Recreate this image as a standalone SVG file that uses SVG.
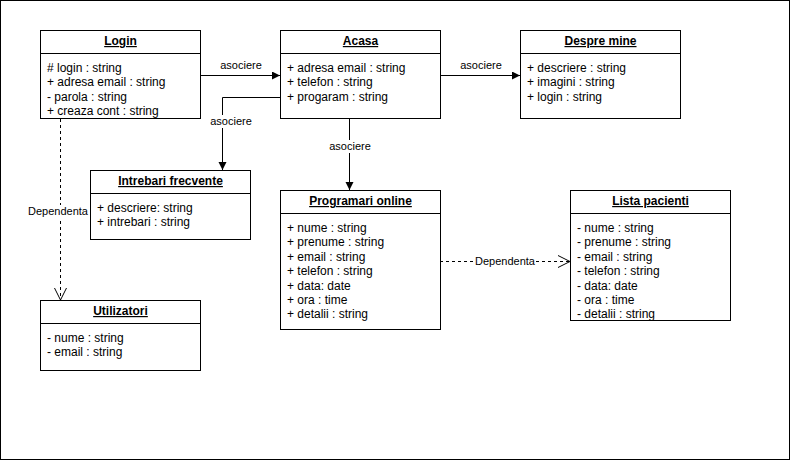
<svg xmlns="http://www.w3.org/2000/svg" width="791" height="461" viewBox="0 0 791 461">
<style>
.box{fill:#fff;stroke:#000;stroke-width:1}
.sep{stroke:#000;stroke-width:1}
.title{font-family:"Liberation Sans",Arial,sans-serif;font-size:12px;font-weight:bold;text-anchor:middle;text-decoration:underline;fill:#000}
.attr{font-family:"Liberation Sans",Arial,sans-serif;font-size:12px;fill:#000}
.lbl{font-family:"Liberation Sans",Arial,sans-serif;font-size:11px;text-anchor:middle;fill:#000}
.edge{fill:none;stroke:#000;stroke-width:1}
.dash{stroke-dasharray:3 3}
.bg{fill:#fff}
</style>
<defs>
<marker id="block" markerWidth="10" markerHeight="10" refX="8" refY="4" orient="auto" markerUnits="userSpaceOnUse">
<path d="M0,0 L8,4 L0,8 Z" fill="#000" stroke="none"/>
</marker>
<marker id="open" markerWidth="14" markerHeight="15" refX="12.5" refY="6.5" orient="auto" markerUnits="userSpaceOnUse">
<path d="M0.5,0.5 L12.5,6.5 L0.5,12.5" fill="none" stroke="#000" stroke-width="1" stroke-dasharray="none"/>
</marker>
</defs>
<rect x="0.5" y="0.5" width="789" height="459" fill="#fff" stroke="#000" stroke-width="1"/>

<g id="connectors">
<path class="edge" d="M200.5,75.5 H280" marker-end="url(#block)"/>
<path class="edge" d="M440.5,75.5 H520" marker-end="url(#block)"/>
<path class="edge" d="M280,97.5 H222.5 V170" marker-end="url(#block)"/>
<path class="edge" d="M349.5,119 V190" marker-end="url(#block)"/>
<path class="edge dash" d="M60.5,119 V300" marker-end="url(#open)"/>
<path class="edge dash" d="M440,261.5 H570" marker-end="url(#open)"/>
<text class="lbl" x="241" y="69">asociere</text>
<text class="lbl" x="481" y="69">asociere</text>
<rect class="bg" x="210" y="115" width="42" height="13"/>
<text class="lbl" x="231" y="125">asociere</text>
<rect class="bg" x="329" y="140" width="42" height="13"/>
<text class="lbl" x="350" y="150">asociere</text>
<rect class="bg" x="28" y="205" width="61" height="13"/>
<text class="lbl" x="58" y="215">Dependenta</text>
<rect class="bg" x="475" y="255" width="61" height="13"/>
<text class="lbl" x="505" y="265">Dependenta</text>
</g>

<g id="login">
<rect class="box" x="40.5" y="30.5" width="160" height="88"/>
<line class="sep" x1="40.5" y1="53.5" x2="200.5" y2="53.5"/>
<text class="title" x="120.5" y="45">Login</text>
<text class="attr">
<tspan x="47" y="72"># login : string</tspan>
<tspan x="47" y="86.4">+ adresa email : string</tspan>
<tspan x="47" y="100.8">- parola : string</tspan>
<tspan x="47" y="115.2">+ creaza cont : string</tspan>
</text>
</g>

<g id="acasa">
<rect class="box" x="280.5" y="30.5" width="160" height="88"/>
<line class="sep" x1="280.5" y1="53.5" x2="440.5" y2="53.5"/>
<text class="title" x="360.5" y="45">Acasa</text>
<text class="attr">
<tspan x="287" y="72">+ adresa email : string</tspan>
<tspan x="287" y="86.4">+ telefon : string</tspan>
<tspan x="287" y="100.8">+ progaram : string</tspan>
</text>
</g>

<g id="despre-mine">
<rect class="box" x="520.5" y="30.5" width="160" height="88"/>
<line class="sep" x1="520.5" y1="53.5" x2="680.5" y2="53.5"/>
<text class="title" x="600.5" y="45">Despre mine</text>
<text class="attr">
<tspan x="527" y="72">+ descriere : string</tspan>
<tspan x="527" y="86.4">+ imagini : string</tspan>
<tspan x="527" y="100.8">+ login : string</tspan>
</text>
</g>

<g id="intrebari-frecvente">
<rect class="box" x="90.5" y="170.5" width="160" height="69"/>
<line class="sep" x1="90.5" y1="193.5" x2="250.5" y2="193.5"/>
<text class="title" x="170.5" y="185">Intrebari frecvente</text>
<text class="attr">
<tspan x="97" y="212">+ descriere: string</tspan>
<tspan x="97" y="226.4">+ intrebari : string</tspan>
</text>
</g>

<g id="programari-online">
<rect class="box" x="280.5" y="190.5" width="160" height="139"/>
<line class="sep" x1="280.5" y1="213.5" x2="440.5" y2="213.5"/>
<text class="title" x="360.5" y="205">Programari online</text>
<text class="attr">
<tspan x="287" y="232">+ nume : string</tspan>
<tspan x="287" y="246.4">+ prenume : string</tspan>
<tspan x="287" y="260.8">+ email : string</tspan>
<tspan x="287" y="275.2">+ telefon : string</tspan>
<tspan x="287" y="289.6">+ data: date</tspan>
<tspan x="287" y="304">+ ora : time</tspan>
<tspan x="287" y="318.4">+ detalii : string</tspan>
</text>
</g>

<g id="lista-pacienti">
<rect class="box" x="570.5" y="190.5" width="160" height="130"/>
<line class="sep" x1="570.5" y1="213.5" x2="730.5" y2="213.5"/>
<text class="title" x="650.5" y="205">Lista pacienti</text>
<text class="attr">
<tspan x="577" y="232">- nume : string</tspan>
<tspan x="577" y="246.4">- prenume : string</tspan>
<tspan x="577" y="260.8">- email : string</tspan>
<tspan x="577" y="275.2">- telefon : string</tspan>
<tspan x="577" y="289.6">- data: date</tspan>
<tspan x="577" y="304">- ora : time</tspan>
<tspan x="577" y="318.4">- detalii : string</tspan>
</text>
</g>

<g id="utilizatori">
<rect class="box" x="40.5" y="300.5" width="160" height="70"/>
<line class="sep" x1="40.5" y1="323.5" x2="200.5" y2="323.5"/>
<text class="title" x="120.5" y="315">Utilizatori</text>
<text class="attr">
<tspan x="47" y="342">- nume : string</tspan>
<tspan x="47" y="356.4">- email : string</tspan>
</text>
</g>
</svg>
